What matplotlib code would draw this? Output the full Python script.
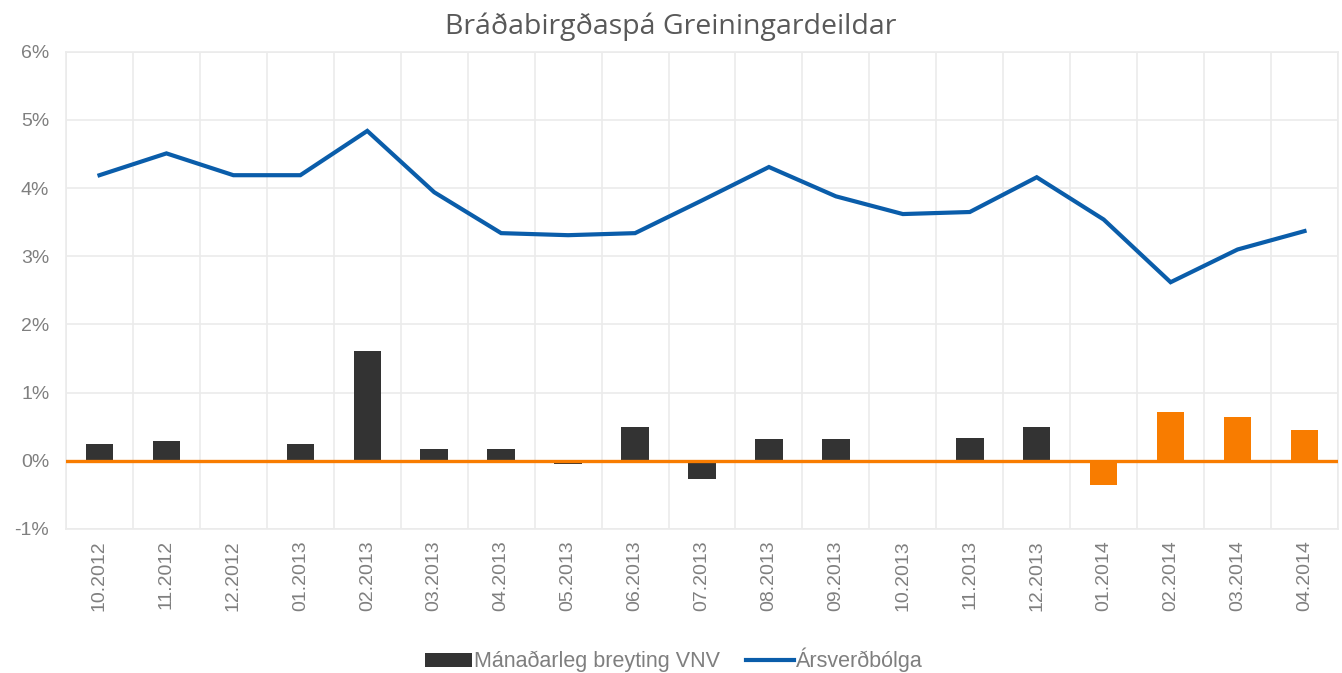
#!/usr/bin/env python3
"""Bráðabirgðaspá Greiningardeildar: monthly CPI change and annual inflation."""

import matplotlib

matplotlib.use("Agg")
import matplotlib.pyplot as plt
from matplotlib.lines import Line2D
from matplotlib.patches import Patch
from matplotlib.ticker import FuncFormatter, MultipleLocator

months = [
    "10.2012", "11.2012", "12.2012", "01.2013", "02.2013", "03.2013", "04.2013",
    "05.2013", "06.2013", "07.2013", "08.2013", "09.2013", "10.2013", "11.2013",
    "12.2013", "01.2014", "02.2014", "03.2014", "04.2014",
]
monthly_change = [
    0.25, 0.29, 0.00, 0.25, 1.61, 0.18, 0.18, -0.05, 0.50, -0.27,
    0.32, 0.32, 0.00, 0.34, 0.50, -0.36, 0.72, 0.64, 0.45,
]
annual_inflation = [
    4.19, 4.51, 4.19, 4.19, 4.84, 3.94, 3.34, 3.31, 3.34, 3.82,
    4.31, 3.88, 3.62, 3.65, 4.16, 3.54, 2.62, 3.10, 3.37,
]
n_forecast = 4  # last months are the forecast (orange)

PALETTE = {
    "bar": "#333333",
    "forecast": "#F87C00",
    "line": "#0A5DAA",
    "grid": "#EBEBEB",
    "text": "#7F7F7F",
    "title": "#595959",
}

plt.rcParams["font.family"] = ["Liberation Sans", "DejaVu Sans"]

fig = plt.figure(figsize=(13.42, 6.73), dpi=100)
ax = fig.add_axes([0.0492, 0.214, 0.9478, 0.709])

x = list(range(len(months)))
colors = [PALETTE["bar"]] * (len(months) - n_forecast) + [PALETTE["forecast"]] * n_forecast
ax.bar(x, monthly_change, width=0.41, color=colors, zorder=2)
ax.axhline(0, color=PALETTE["forecast"], linewidth=2.4, zorder=3)
ax.plot(x, annual_inflation, color=PALETTE["line"], linewidth=3.0,
        solid_joinstyle="miter", zorder=4)

ax.set_xlim(-0.5, len(months) - 0.5)
ax.set_ylim(-1, 6)
ax.yaxis.set_major_locator(MultipleLocator(1))
ax.yaxis.set_major_formatter(FuncFormatter(lambda v, _: f"{v:.0f}%"))
ax.set_xticks(x)
ax.set_xticklabels(months, rotation=90)
ax.set_xticks([i - 0.5 for i in range(len(months) + 1)], minor=True)

ax.grid(True, axis="y", which="major", color=PALETTE["grid"], linewidth=1.2, zorder=0)
ax.grid(True, axis="x", which="minor", color=PALETTE["grid"], linewidth=1.2, zorder=0)
for spine in ax.spines.values():
    spine.set_color(PALETTE["grid"])
    spine.set_linewidth(1.2)

ax.tick_params(axis="both", which="both", length=0, colors=PALETTE["text"], labelsize=14)
ax.tick_params(axis="x", pad=8)
ax.tick_params(axis="y", pad=12)

fig.suptitle("Bráðabirgðaspá Greiningardeildar", x=0.5, y=0.982,
             fontsize=20.5, color=PALETTE["title"], family=["Open Sans", "DejaVu Sans"])

handles = [
    Patch(facecolor=PALETTE["bar"], label="Mánaðarleg breyting VNV"),
    Line2D([0], [0], color=PALETTE["line"], linewidth=3.0, label="Ársverðbólga"),
]
fig.legend(handles=handles, loc="center", bbox_to_anchor=(0.502, 0.019), ncol=2,
           frameon=False, fontsize=15.5, labelcolor=PALETTE["text"],
           handlelength=2.2, handleheight=0.6, handletextpad=0.1, columnspacing=1.2)

fig.savefig("out.png", dpi=100, facecolor="white")
